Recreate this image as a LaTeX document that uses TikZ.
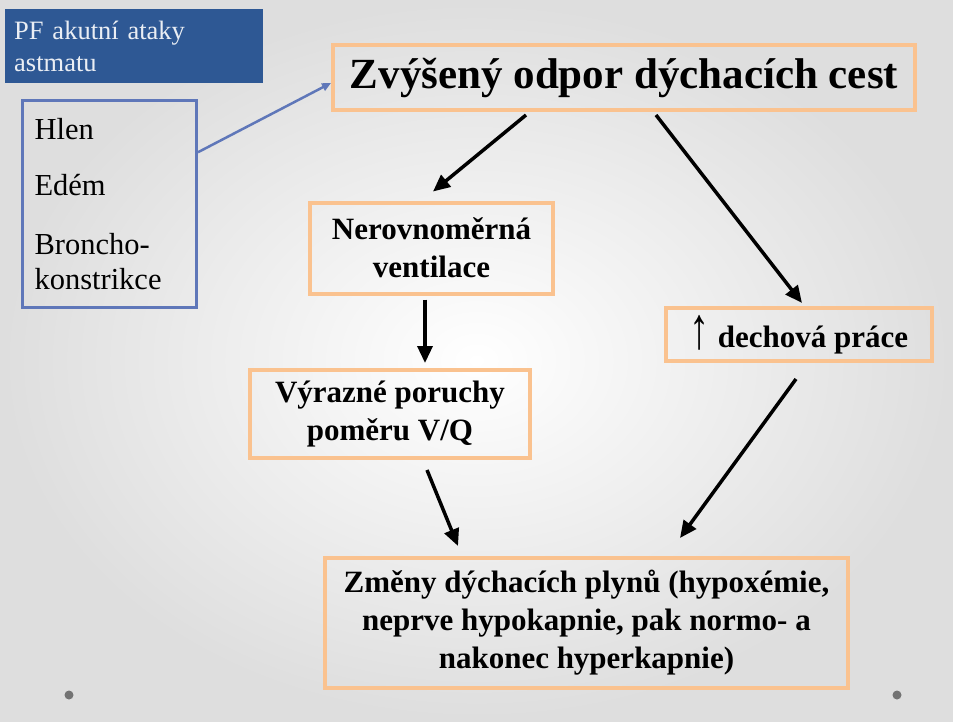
\documentclass[tikz,border=0pt]{standalone}
\usepackage{fontspec}
\setmainfont{Liberation Serif}
\usetikzlibrary{positioning,arrows.meta}
\definecolor{PFBlue}{HTML}{2E5894}
\definecolor{PFFrame}{HTML}{5F77B9}
\definecolor{PFOrange}{HTML}{FAC28F}
\definecolor{PFDot}{HTML}{737373}

\begin{document}
\begin{tikzpicture}[x=1pt,y=-1pt,
    box/.style={draw=PFOrange, line width=4pt, align=center, inner sep=0pt,
      font=\bfseries\fontsize{31}{38}\selectfont},
    flow/.style={-{Triangle[length=17pt,width=15pt]}, line width=3.5pt}]
  \shade[inner color=white, outer color=black!13] (0,0) rectangle (953,721);
  \useasboundingbox (0,0) rectangle (953,721);
  \fill[PFDot] (69,695) circle (4.5pt);
  \fill[PFDot] (897,695) circle (4.5pt);

  \node[fill=PFBlue, text=white!90!PFBlue, anchor=north west, minimum width=257pt, minimum height=74pt,
    text width=240pt, inner xsep=9pt, align=left, font=\fontsize{26.5}{32}\selectfont]
    (nadpis) at (5,9) {PF akutní ataky\\astmatu};
  \node[draw=PFFrame, line width=3pt, anchor=north west, text width=150pt, inner xsep=12pt, inner ysep=18pt,
    align=left, font=\fontsize{30.5}{35}\selectfont]
    (priciny) at (21,99) {Hlen\\[21pt]Edém\\[24pt]Broncho-\\konstrikce};

  \node[box, minimum width=582pt, minimum height=65pt, font=\bfseries\fontsize{43}{50}\selectfont]
    (odpor) at (624,77.5) {Zvýšený odpor dýchacích cest};
  \node[box, minimum width=243pt, minimum height=91pt] (ventilace) at (431.5,248) {Nerovnoměrná\\ventilace};
  \node[box, minimum width=280pt, minimum height=88pt] (vq) at (390,414) {Výrazné poruchy\\poměru V/Q};
  \node[box, minimum width=266pt, minimum height=53pt] (prace) at (799,334.5)
    {\raisebox{-1pt}{\scalebox{1.3}[1.9]{\mdseries ↑}} dechová práce};
  \node[box, minimum width=523pt, minimum height=130pt] (plyny) at (586.5,623)
    {Změny dýchacích plynů (hypoxémie,\\neprve hypokapnie, pak normo- a\\nakonec hyperkapnie)};

  \draw[-{Triangle[length=9pt,width=8pt]}, line width=2.5pt, PFFrame]
    ([yshift=52pt]priciny.east) -- ([yshift=-5.5pt]odpor.west);
  \draw[flow] ([xshift=195pt,yshift=-3pt]odpor.south west) -- ([xshift=1.5pt,yshift=9pt]ventilace.north);
  \draw[flow] ([xshift=325pt,yshift=-3pt]odpor.south west) -- ([xshift=3pt,yshift=3pt]prace.north);
  \draw[flow] ([xshift=-6.5pt,yshift=-4pt]ventilace.south) -- ([xshift=35pt,yshift=5pt]vq.north);
  \draw[flow] ([xshift=37pt,yshift=-10pt]vq.south) -- ([xshift=-128.5pt,yshift=10pt]plyny.north);
  \draw[flow] ([xshift=-3pt,yshift=-16pt]prace.south) -- ([xshift=93.5pt,yshift=18pt]plyny.north);
\end{tikzpicture}
\end{document}
